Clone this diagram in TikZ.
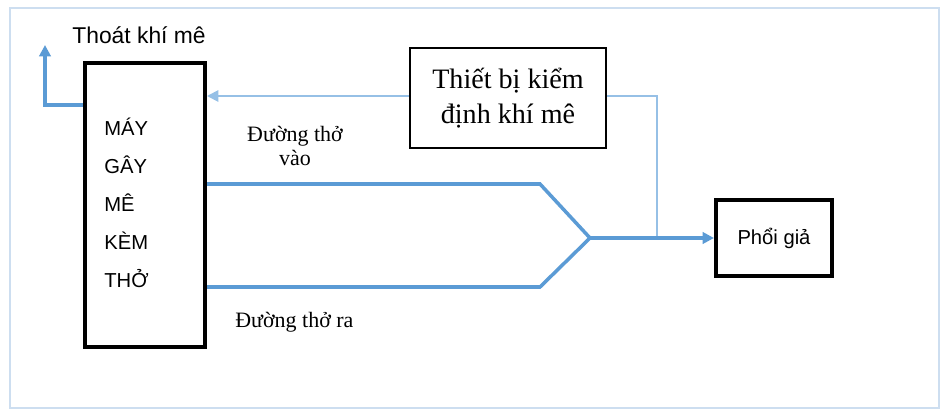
\documentclass[tikz,border=0pt]{standalone}
\usepackage{fontspec}
\setmainfont{Liberation Serif}
\setsansfont{Liberation Sans}
\usetikzlibrary{arrows.meta}
\definecolor{ongxanh}{RGB}{91,155,213}
\definecolor{ongnhat}{RGB}{150,192,230}
\definecolor{khung}{RGB}{205,222,240}
\tikzstyle{hopmay}=[rectangle, draw, line width=2.3pt, minimum width=2.4cm, minimum height=5.68cm]
\tikzstyle{hopkiem}=[rectangle, draw, line width=1.3pt, minimum width=3.92cm, minimum height=2cm, align=center, font=\fontsize{16}{20}\selectfont]
\tikzstyle{hopphoi}=[rectangle, draw, line width=2.3pt, minimum width=2.32cm, minimum height=1.52cm, font=\sffamily\fontsize{11.5}{14}\selectfont]
\tikzstyle{ongdan}=[ongxanh, line width=2pt]
\tikzstyle{ongmanh}=[ongnhat, line width=1.1pt]
\tikzstyle{muiten}=[-{Triangle[length=6.5pt,width=6.5pt]}]
\tikzstyle{nhansans}=[font=\sffamily\fontsize{11.5}{14}\selectfont, inner sep=0pt]
\tikzstyle{nhanserif}=[font=\fontsize{12.5}{14}\selectfont, inner sep=0pt, align=center]
\newcommand{\hopmay}[3]{
	\node[hopmay] (#1) at (#2) {};
	\node[nhansans, align=left, anchor=west, font=\sffamily\fontsize{11.5}{21.7}\selectfont] (K) at (#3) {M\'AY\\G\^AY\\M\^E\\K\`EM\\THỞ};}

\begin{document}
\begin{tikzpicture}[x=0.02cm, y=-0.02cm]
	\useasboundingbox (0,0) rectangle (950,412);
	\draw[khung, line width=1.2pt] (10,8) rectangle (939,408);

	\hopmay{may}{145,205}{104,203}
	\node[hopkiem] (kiemdinh) at (508,98) {Thiết bị kiểm\\định khí mê};
	\node[hopphoi] (phoi) at (774,238) {Phổi giả};

	\coordinate (thoat) at (45,45);
	\coordinate (gapvao) at (540,184);
	\coordinate (gapra) at (540,287);
	\coordinate (noi) at (590,238);
	\coordinate (nhanh) at (657,238);

	\node[nhansans, anchor=west, font=\sffamily\fontsize{13}{15}\selectfont] (tthoat) at (72,35) {Thoát khí mê};
	\node[nhanserif] (tvao) at (295,146) {Đường thở\\vào};
	\node[nhanserif, anchor=west] (tra) at (235,322) {Đường thở ra};

	\draw[ongdan, muiten] (may.west |- 0,105) -| (thoat);
	\draw[ongmanh, muiten] (kiemdinh.west |- 0,96) -- (may.east |- 0,96);
	\draw[ongmanh] (kiemdinh.east |- 0,96) -| (nhanh);
	\draw[ongdan, line join=miter] (may.east |- 0,184) -- (gapvao) -- (noi) -- (gapra) -- (may.east |- 0,287);
	\draw[ongdan, muiten] (noi) -- (phoi.west);
\end{tikzpicture}
\end{document}
